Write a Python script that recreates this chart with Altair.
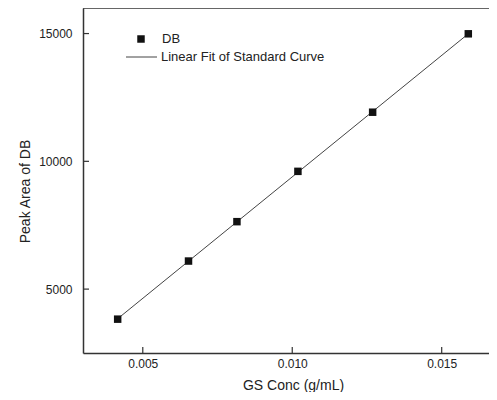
import altair as alt
import pandas as pd

# Data
conc = [0.00416, 0.00653, 0.00815, 0.01019, 0.01269, 0.01589]
area = [3824, 6098, 7639, 9608, 11922, 14990]
x_ticks = [0.005, 0.010, 0.015]
y_ticks = [5000, 10000, 15000]
legend_labels = ["DB", "Linear Fit of Standard Curve"]

df = pd.DataFrame({"conc": conc, "area": area})
xt_df = pd.DataFrame({"xt": x_ticks})
yt_df = pd.DataFrame({"yt": y_ticks})

FONT = "Liberation Sans"
TXT = "#222222"
AX = "#333333"

x_scale = alt.Scale(domain=[0.003, 0.01685], nice=False, zero=False)
y_scale = alt.Scale(domain=[2500, 16000], nice=False, zero=False)

x_enc = alt.X(
    "conc:Q",
    scale=x_scale,
    axis=alt.Axis(
        values=x_ticks, format=".3f", title="GS Conc (g/mL)",
        ticks=False, labelPadding=5,
        titleX=210, titleY=32, titleBaseline="middle", titleAlign="center",
    ),
)
y_enc = alt.Y(
    "area:Q",
    scale=y_scale,
    axis=alt.Axis(
        values=y_ticks, format="d", title="Peak Area of DB",
        ticks=False, labelPadding=11,
        titleX=-58, titleY=183, titleAngle=270,
        titleBaseline="middle", titleAlign="center",
    ),
)

base = alt.Chart(df)

fit = base.transform_regression("conc", "area").mark_line(
    color="#444444", strokeWidth=1
).encode(x=x_enc, y=y_enc)

pts = base.mark_point(
    shape="square", filled=True, size=56, color="#111111", opacity=1
).encode(x="conc:Q", y="area:Q")

# inward tick marks, placed through the scales
xticks = alt.Chart(xt_df).mark_rule(color=AX, strokeWidth=1.2).encode(
    x=alt.X("xt:Q", scale=x_scale), y=alt.value(345), y2=alt.value(339)
)
yticks = alt.Chart(yt_df).mark_rule(color=AX, strokeWidth=1.2).encode(
    y=alt.Y("yt:Q", scale=y_scale), x=alt.value(0), x2=alt.value(6)
)

# top frame line (the right side of the frame is cut off in the reference)
frame_df = pd.DataFrame({"k": [0]})
top_line = alt.Chart(frame_df).mark_rule(
    color=AX, strokeWidth=1.5
).encode(x=alt.value(0), x2=alt.value(406), y=alt.value(0))

leg_df1 = pd.DataFrame({"label": [legend_labels[0]]})
leg_df2 = pd.DataFrame({"label": [legend_labels[1]]})

leg_sq = alt.Chart(leg_df1).mark_point(
    shape="square", filled=True, size=56, color="#111111", opacity=1
).encode(x=alt.value(58), y=alt.value(31))
leg_sq_t = alt.Chart(leg_df1).mark_text(
    align="left", baseline="middle", font=FONT, fontSize=13, color=TXT
).encode(x=alt.value(79), y=alt.value(31), text="label:N")
leg_ln = alt.Chart(leg_df2).mark_rule(color="#444444", strokeWidth=1).encode(
    x=alt.value(43), x2=alt.value(74), y=alt.value(49)
)
leg_ln_t = alt.Chart(leg_df2).mark_text(
    align="left", baseline="middle", font=FONT, fontSize=13, color=TXT
).encode(x=alt.value(78), y=alt.value(49), text="label:N")

chart = alt.layer(
    fit, pts, xticks, yticks, top_line, leg_sq, leg_sq_t, leg_ln, leg_ln_t
).properties(
    width=414,
    height=345,
    autosize=alt.AutoSizeParams(type="none"),
    padding={"left": 75, "top": 0, "right": -8, "bottom": 39},
    background="white",
).configure_view(
    stroke="transparent", strokeWidth=0
).configure_axis(
    labelFont=FONT, labelFontSize=12, labelColor=TXT,
    titleFont=FONT, titleFontSize=14, titleColor=TXT, titleFontWeight="normal",
    domainColor=AX, domainWidth=1.5,
    grid=False,
)

chart.save("out.html", embed_options={"renderer": "svg", "actions": False})
